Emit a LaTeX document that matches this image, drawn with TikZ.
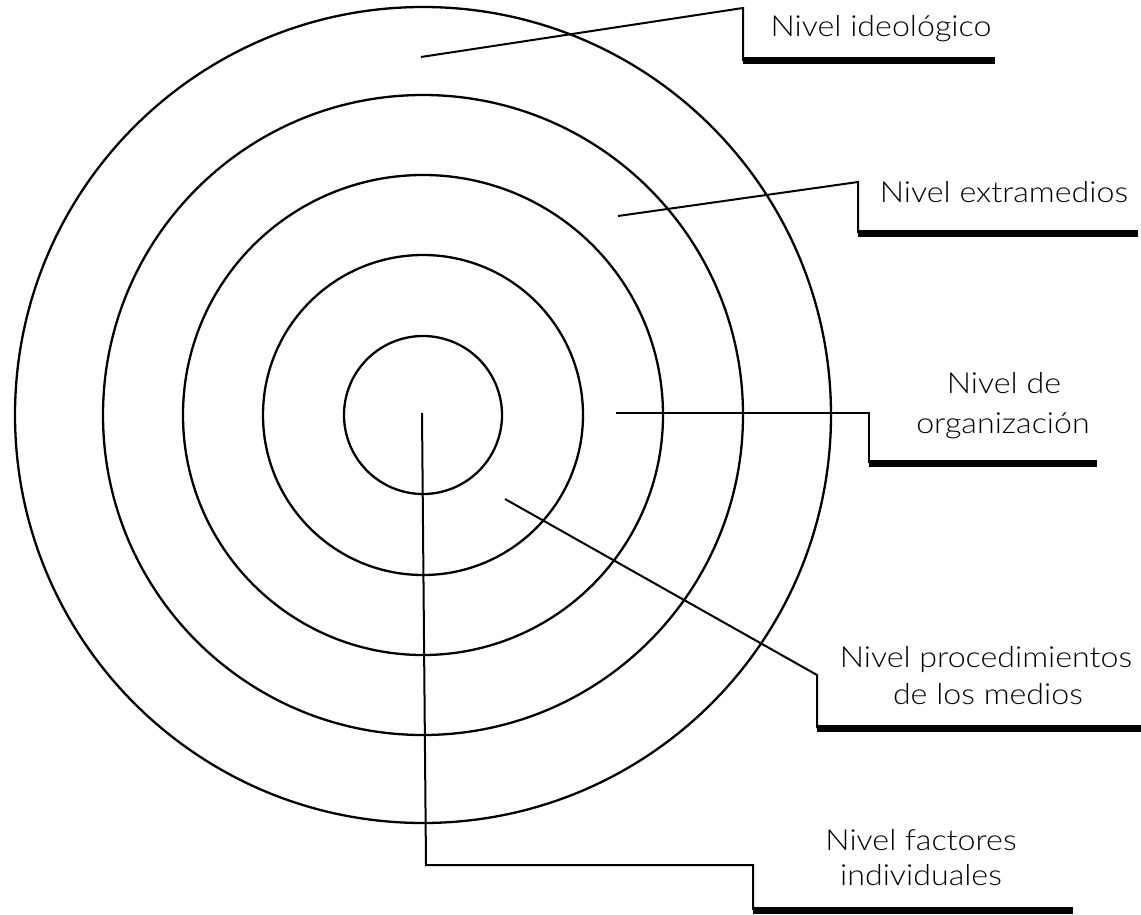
\documentclass[tikz,border=0pt]{standalone}
\usepackage{fontspec}
\setmainfont{Lato}[UprightFont=* Light, FakeStretch=1.11]
\begin{document}
\begin{tikzpicture}[x=1pt,y=-1pt,
  ring/.style={draw, circle, line width=2.3pt, inner sep=0pt},
  leader/.style={line width=2pt, line join=miter},
  baseline/.style={line width=7pt},
  lab/.style={font=\fontsize{29}{34}\selectfont, anchor=base, inner sep=0pt}]
\useasboundingbox (0,0) rectangle (1141,915);
\coordinate (c) at (423,415);
\node[ring, minimum size=816pt] (ring1) at (c) {};
\node[ring, minimum size=640pt] (ring2) at (c) {};
\node[ring, minimum size=480pt] (ring3) at (c) {};
\node[ring, minimum size=320pt] (ring4) at (c) {};
\node[ring, minimum size=158pt] (ring5) at (c) {};
% labels
\node[lab] (t1)  at (881,37)  {Nivel ideológico};
\node[lab] (t2)  at (1004,203) {Nivel extramedios};
\node[lab] (t3a) at (1004,393) {Nivel de};
\node[lab] (t3b) at (1003,433) {organización};
\node[lab] (t4a) at (986,667) {Nivel procedimientos};
\node[lab] (t4b) at (988,704) {de los medios};
\node[lab] (t5a) at (921,850) {Nivel factores};
\node[lab] (t5b) at (921,885) {individuales};
% leader 1
\coordinate (p1) at (421,57); \coordinate (k1) at (743,8);
\coordinate (b1) at (743,61); \coordinate (e1) at (995,61);
\draw[leader] (p1) -- (k1) -- (b1);
\draw[baseline] (b1) -- (e1);
% leader 2
\coordinate (p2) at (618,216); \coordinate (k2) at (858,182);
\coordinate (b2) at (858,233); \coordinate (e2) at (1138,233);
\draw[leader] (p2) -- (k2) -- (b2);
\draw[baseline] (b2) -- (e2);
% leader 3
\coordinate (p3) at (616,413); \coordinate (k3) at (869,413);
\coordinate (b3) at (869,463); \coordinate (e3) at (1097,463);
\draw[leader] (p3) -- (k3) -- (b3);
\draw[baseline] (b3) -- (e3);
% leader 4
\coordinate (p4) at (505,499); \coordinate (k4) at (817,675);
\coordinate (b4) at (817,728); \coordinate (e4) at (1141,728);
\draw[leader] (p4) -- (k4) -- (b4);
\draw[baseline] (b4) -- (e4);
% leader 5
\coordinate (p5) at (422,413); \coordinate (m5) at (426,865);
\coordinate (k5) at (753,865); \coordinate (b5) at (753,910);
\coordinate (e5) at (1073,910);
\draw[leader] (p5) -- (m5) -- (k5) -- (b5);
\draw[baseline] (b5) -- (e5);
\end{tikzpicture}
\end{document}
